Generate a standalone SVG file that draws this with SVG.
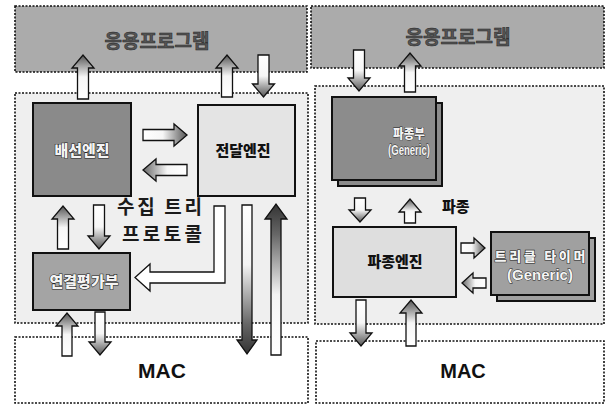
<svg xmlns="http://www.w3.org/2000/svg" width="606" height="405" viewBox="0 0 606 405">
<defs>
<linearGradient id="gUp" x1="0" y1="1" x2="0" y2="0"><stop offset="0" stop-color="#fff"/><stop offset="0.5" stop-color="#f6f6f6"/><stop offset="1" stop-color="#555"/></linearGradient>
<linearGradient id="gDown" x1="0" y1="0" x2="0" y2="1"><stop offset="0" stop-color="#fff"/><stop offset="0.5" stop-color="#f6f6f6"/><stop offset="1" stop-color="#555"/></linearGradient>
<linearGradient id="gRight" x1="0" y1="0" x2="1" y2="0"><stop offset="0" stop-color="#fff"/><stop offset="0.45" stop-color="#f6f6f6"/><stop offset="1" stop-color="#555"/></linearGradient>
<linearGradient id="gLeft" x1="1" y1="0" x2="0" y2="0"><stop offset="0" stop-color="#fff"/><stop offset="0.45" stop-color="#f6f6f6"/><stop offset="1" stop-color="#666"/></linearGradient>
<linearGradient id="gLongDown" x1="0" y1="0" x2="0" y2="1"><stop offset="0" stop-color="#fff"/><stop offset="0.4" stop-color="#f4f4f4"/><stop offset="0.8" stop-color="#666"/><stop offset="1" stop-color="#333"/></linearGradient>
<linearGradient id="gLongUp" x1="0" y1="1" x2="0" y2="0"><stop offset="0" stop-color="#fff"/><stop offset="0.4" stop-color="#f4f4f4"/><stop offset="0.8" stop-color="#666"/><stop offset="1" stop-color="#333"/></linearGradient>
</defs>
<style>
.bar{fill:#ababab;stroke:#111;stroke-width:1.6;stroke-dasharray:2 1.5}
.panel{fill:#efefef;stroke:#111;stroke-width:1.6;stroke-dasharray:2 1.5}
.mac{fill:#fff;stroke:#111;stroke-width:1.6;stroke-dasharray:2 1.5}
.box{stroke:#111;stroke-width:2}
.ko{font-family:"Noto Sans CJK KR","Noto Sans",sans-serif}
.lat{font-family:"Liberation Sans",Arial,sans-serif;font-weight:bold}
.title{font-size:19px;font-weight:bold;fill:#555;stroke:#222;stroke-width:0.5;text-anchor:middle}
.lbl{font-size:15px;font-weight:900;text-anchor:middle}
.dark{fill:#f4f4f4;stroke:#222;stroke-width:1.1;paint-order:stroke;font-weight:900}
.thin{stroke-width:0.8}
.light{fill:#111}
.big{font-size:19px;font-weight:bold;fill:#1a1a1a}
.arr{stroke:#111;stroke-width:1.3;stroke-linejoin:miter}
</style>
<g id="left-app"><rect class="bar" x="15" y="6" width="292" height="66"/><text class="ko title" x="157" y="48">응용프로그램</text></g>
<g id="left-panel"><rect class="panel" x="15" y="93" width="293" height="230"/></g>
<g id="left-mac"><rect class="mac" x="15" y="337" width="293" height="66"/><text class="lat" x="162" y="378" font-size="21" text-anchor="middle" fill="#111">MAC</text></g>
<g id="right-app"><rect class="bar" x="311" y="6" width="293" height="62"/><text class="ko title" x="458" y="44">응용프로그램</text></g>
<g id="right-panel"><rect class="panel" x="315" y="86" width="289" height="238"/></g>
<g id="right-mac"><rect class="mac" x="316" y="341" width="288" height="62"/><text class="lat" x="463" y="378" font-size="20" text-anchor="middle" fill="#111">MAC</text></g>
<g id="node-baeseon"><rect class="box" x="33" y="103" width="98" height="93" fill="#8a8a8a"/><text class="ko lbl dark" x="82" y="156">배선엔진</text></g>
<g id="node-jeondal"><rect class="box" x="198" y="105" width="97" height="91" fill="#e4e4e4"/><text class="ko lbl light" x="243" y="156">전달엔진</text></g>
<g id="node-yeongyeol"><rect class="box" x="33" y="253" width="97" height="57" fill="#a4a4a4"/><text class="ko lbl dark" x="84" y="287" font-size="16">연결평가부</text></g>
<g id="label-protocol"><text class="ko big" x="117" y="214" textLength="85" lengthAdjust="spacing">수집 트리</text><text class="ko big" x="122" y="241" textLength="80" lengthAdjust="spacing">프로토콜</text></g>
<g id="node-pajongbu"><rect class="box" x="338" y="103" width="104" height="83" fill="#8c8c8c"/><rect class="box" x="332" y="97" width="104" height="83" fill="#8c8c8c"/><text class="ko dark thin" x="409" y="138" font-size="13" text-anchor="middle" textLength="32" lengthAdjust="spacingAndGlyphs">파종부</text><text class="lat dark thin" x="409" y="155" font-size="14" text-anchor="middle" textLength="42" lengthAdjust="spacingAndGlyphs">(Generic)</text></g>
<g id="node-pajongengine"><rect class="box" x="333" y="227" width="123" height="70" fill="#dedede"/><text class="ko lbl light" x="395" y="267">파종엔진</text></g>
<g id="node-trickle"><rect class="box" x="497" y="238" width="98" height="63" fill="#a0a0a0"/><rect class="box" x="491" y="232" width="98" height="63" fill="#a0a0a0"/><text class="ko dark" x="540" y="261" font-size="13" text-anchor="middle" textLength="91" lengthAdjust="spacing">트리클 타이머</text><text class="lat dark thin" x="540" y="280" font-size="15" text-anchor="middle">(Generic)</text></g>
<g id="label-pajong"><text class="ko" x="442" y="212" font-size="15" font-weight="900" fill="#111">파종</text></g>
<g id="connectors">
<path class="arr" fill="url(#gUp)" d="M77.5,99 V68 H72 L83,55 L94,68 H88.5 V99 Z"/>
<path class="arr" fill="url(#gUp)" d="M221.5,97 V68 H216 L227,55 L238,68 H232.5 V97 Z"/>
<path class="arr" fill="url(#gDown)" d="M258,55 V84 H252.5 L263.5,97 L274.5,84 H269 V55 Z"/>
<path class="arr" fill="url(#gRight)" d="M143,129.5 H174 V124 L187,135 L174,146 V140.5 H143 Z"/>
<path class="arr" fill="url(#gLeft)" d="M187,164.5 H156 V159 L143,170 L156,181 V175.5 H187 Z"/>
<path class="arr" fill="url(#gUp)" d="M57.5,249 V219 H52 L63,206 L74,219 H68.5 V249 Z"/>
<path class="arr" fill="url(#gDown)" d="M93.5,205 V236 H88 L99,249 L110,236 H104.5 V205 Z"/>
<path class="arr" fill="#fff" d="M214,206 H225 V283 H150 V291 L135,277.5 L150,264 V272 H214 Z"/>
<path class="arr" fill="url(#gLongDown)" d="M242,205 H252 V340 H257 L247,354 L237,340 H242 Z"/>
<path class="arr" fill="url(#gLongUp)" d="M271,355 V219 H265 L276,204 L287,219 H281 V355 Z"/>
<path class="arr" fill="url(#gUp)" d="M62,356 V326 H56 L67,313 L78,326 H72 V356 Z"/>
<path class="arr" fill="url(#gDown)" d="M95,312 V342 H89 L100,355 L111,342 H105 V312 Z"/>
<path class="arr" fill="url(#gDown)" d="M353.5,50 V78 H348 L359,91 L370,78 H364.5 V50 Z"/>
<path class="arr" fill="url(#gUp)" d="M404.5,92 V66 H399 L410,53 L421,66 H415.5 V92 Z"/>
<path class="arr" fill="url(#gDown)" d="M354.5,198 V210 H349 L360,222 L371,210 H365.5 V198 Z"/>
<path class="arr" fill="url(#gUp)" d="M404.5,223 V212 H399 L410,199 L421,212 H415.5 V223 Z"/>
<path class="arr" fill="url(#gRight)" d="M461,243 H474 V238 L485,248 L474,258 V253 H461 Z"/>
<path class="arr" fill="url(#gLeft)" d="M486,278 H473 V273 L462,283 L473,293 V288 H486 Z"/>
<path class="arr" fill="url(#gDown)" d="M356,300 V333 H350 L361,346 L372,333 H366 V300 Z"/>
<path class="arr" fill="url(#gUp)" d="M406,346 V313 H400 L411,300 L422,313 H416 V346 Z"/>
</g>
</svg>
